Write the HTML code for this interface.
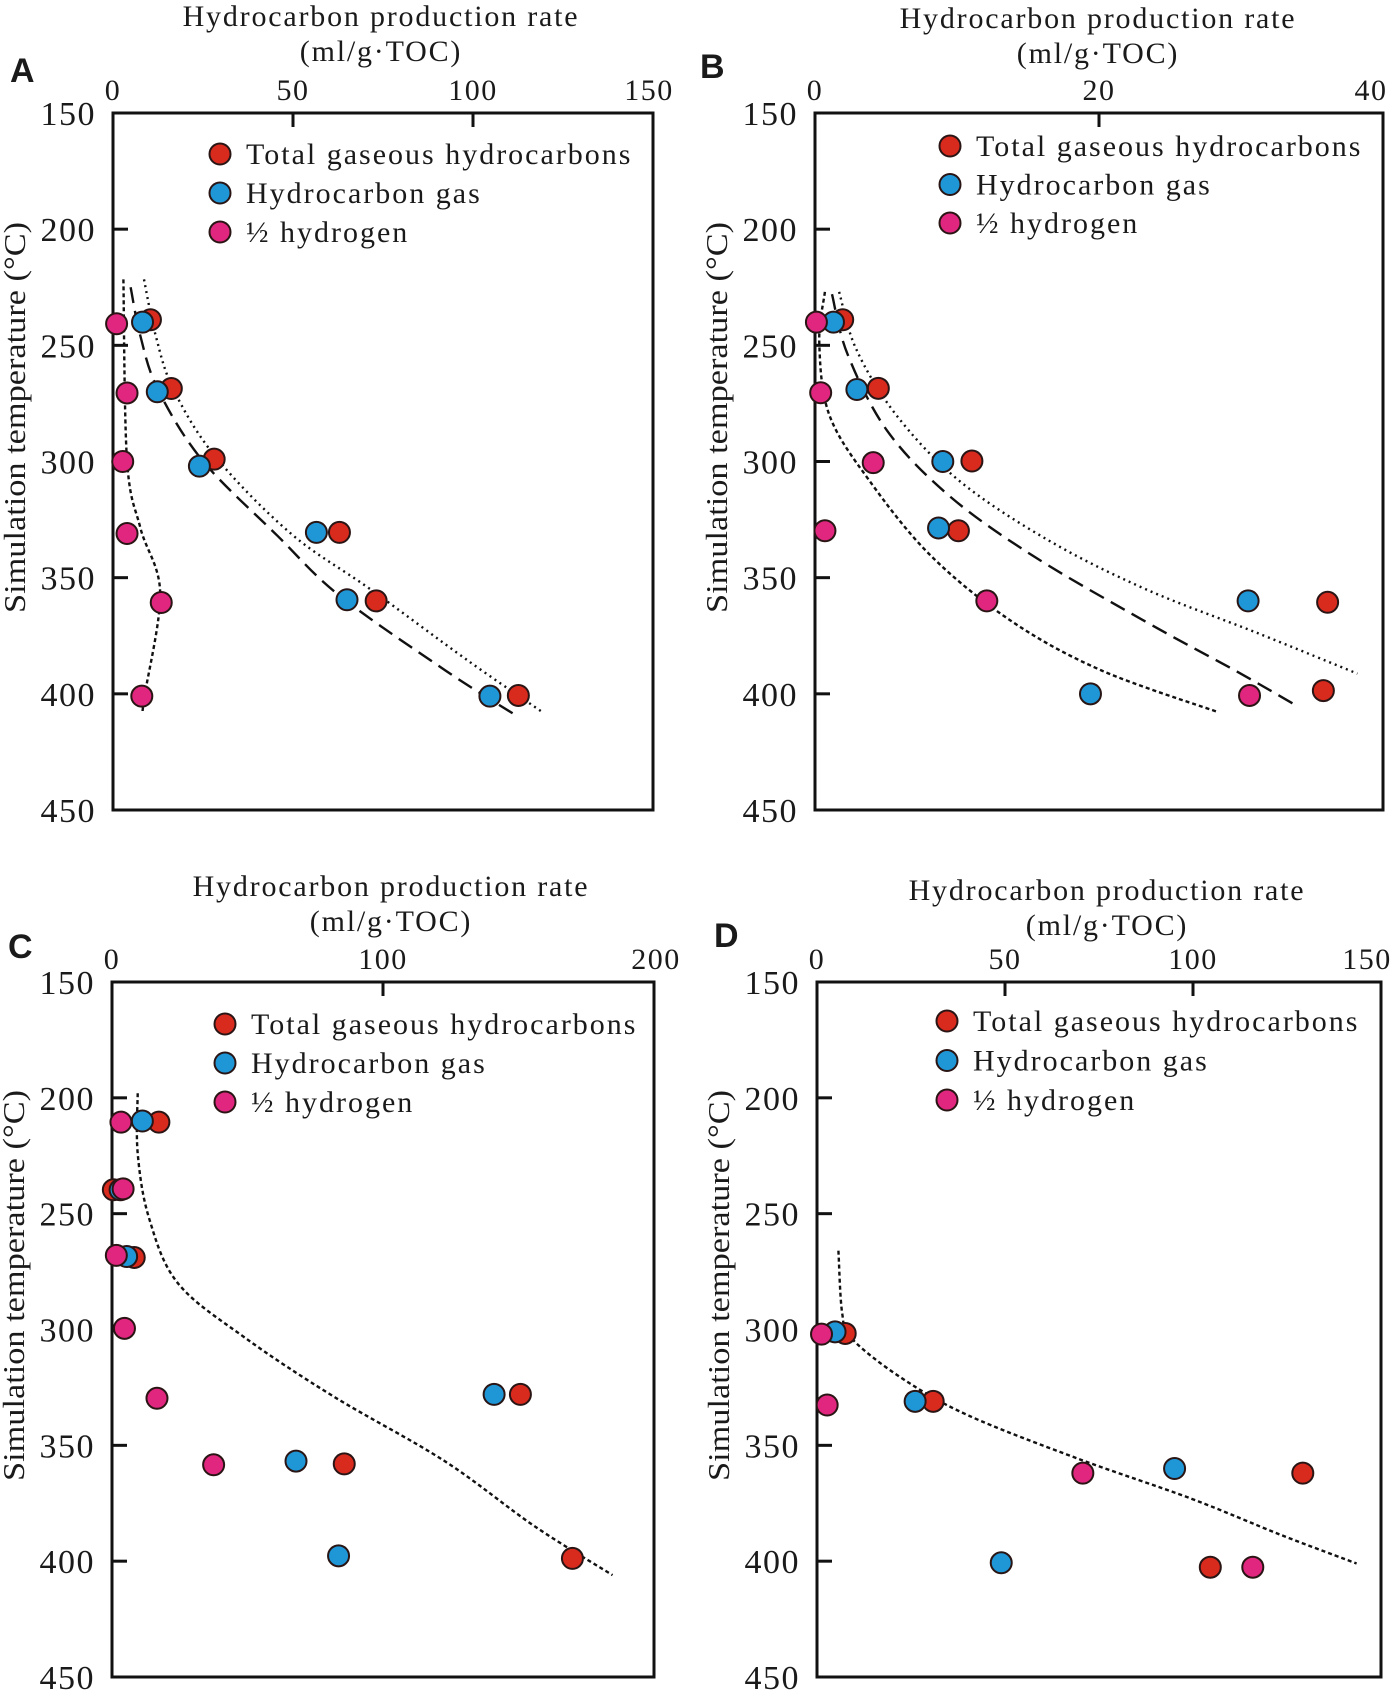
<!DOCTYPE html>
<html><head><meta charset="utf-8">
<style>
html,body{margin:0;padding:0;background:#fff;}
svg{display:block;}
text{font-family:"Liberation Serif",serif;fill:#1a1a1a;}
</style></head>
<body>
<svg id="fig" width="1400" height="1700" viewBox="0 0 1400 1700" xmlns="http://www.w3.org/2000/svg"></svg>
<script>
// ---------- Panel A data ----------
const aTotalX=[10.4,16.2,28.1,62.9,73.1,112.6];
const aTotalT=[239,268.6,299,330.5,360,400.7];
const aGasX=[8.2,12.3,24,56.5,65,104.7];
const aGasT=[240,270,302,330.5,359.5,401];
const aH2X=[1,3.9,2.7,3.9,13.4,8];
const aH2T=[240.7,270.5,300,331,360.7,401];
const aFitH2X=[2.9,3.9,7.6,13.1,8.8,8.2];
const aFitH2T=[221.6,299.5,328.6,356.5,400.7,408];
const aFitGasX=[4.9,7.6,12.5,24.8,45.7,62.9,92.4,112.7];
const aFitGasT=[225,246,269,299.5,332,357.7,390,410];
const aFitTotX=[8.6,11.9,16.8,28.5,49.4,71.5,98.5,119.4];
const aFitTotT=[221.6,246,269,298,331,355,385.6,408];
const aXTicks=[0,50,100,150];
// ---------- Panel B data ----------
const bTotalX=[1.95,4.46,11.05,10.1,36.1,35.8];
const bTotalT=[239,268.5,299.8,329.8,360.6,398.6];
const bGasX=[1.3,2.95,9,8.7,30.5,19.4];
const bGasT=[240,269,300,328.6,360,400];
const bH2X=[0.1,0.4,4.1,0.7,12.1,30.6];
const bH2T=[240,270.4,300.5,329.8,360,400.7];
const bFitH2X=[0.7,0.3,1,3.8,8.2,13.9,20.2,28.3];
const bFitH2T=[227,249,279.8,308,340.8,369,390,407.7];
const bFitGasX=[1.2,2.3,5.1,9.5,15.4,23.3,29.6,33.8];
const bFitGasT=[228,254,286.9,315,340.8,369,390,404.7];
const bFitTotX=[1.7,2.9,5.7,10.1,16.4,23.3,31.1,38.2];
const bFitTotT=[227,251.6,279.8,308,333.8,355,373.7,391.3];
const bXTicks=[0,20,40];
// ---------- Panel C data ----------
const cTotalX=[17.3,0.5,8.2,150.7,85.7,169.9];
const cTotalT=[210.5,239.7,268.9,328,358,398.8];
const cGasX=[11.2,3,5.4,141,67.9,83.6];
const cGasT=[210,239.7,268.5,328,356.8,397.7];
const cH2X=[3.3,4.1,1.6,4.6,16.6,37.5];
const cH2T=[210.5,239.3,268,299.5,329.7,358.4];
const cFitX=[9.5,9.5,13.7,24.3,49,81.9,123,156,184.7];
const cFitT=[198,224,252,280,303.5,329,357,385,406];
const cXTicks=[0,100,200];
// ---------- Panel D data ----------
const dTotalX=[7.5,30.9,129.2,104.6];
const dTotalT=[301.7,331,362,402.6];
const dGasX=[4.8,26.1,95.1,49];
const dGasT=[301,331,360,400.7];
const dH2X=[1.2,2.7,70.7,115.9];
const dH2T=[302,332.6,362,402.6];
const dFitX=[5.7,6.7,9.3,22.3,40.1,69.8,99.5,123.3,143.5];
const dFitT=[266,293,304,320.7,337,356,373,388.6,401];
const dXTicks=[0,50,100,150];

const yTicks=[150,200,250,300,350,400,450];

const NS="http://www.w3.org/2000/svg";
const svg=document.getElementById('fig');
function mk(tag,attrs,parent){const e=document.createElementNS(NS,tag);for(const k in attrs)e.setAttribute(k,attrs[k]);(parent||svg).appendChild(e);return e;}

const RED="#d92a1e",BLUE="#1f96d6",PINK="#e0267e";

function smooth(pts){
  let d='M'+pts[0][0].toFixed(1)+','+pts[0][1].toFixed(1);
  for(let i=0;i<pts.length-1;i++){
    const p0=pts[i-1]||pts[i],p1=pts[i],p2=pts[i+1],p3=pts[i+2]||p2;
    const c1=[p1[0]+(p2[0]-p0[0])/6,p1[1]+(p2[1]-p0[1])/6];
    const c2=[p2[0]-(p3[0]-p1[0])/6,p2[1]-(p3[1]-p1[1])/6];
    d+=' C'+c1[0].toFixed(1)+','+c1[1].toFixed(1)+' '+c2[0].toFixed(1)+','+c2[1].toFixed(1)+' '+p2[0].toFixed(1)+','+p2[1].toFixed(1);
  }
  return d;
}

function panel(cfg){
  const g=mk('g',{});
  
  
  const L=cfg.box[0],T=cfg.box[1],R=cfg.box[2],B=cfg.box[3];
  const xs=v=>L+(v-cfg.xMin)/(cfg.xMax-cfg.xMin)*(R-L);
  const ys=t=>T+(t-150)/300*(B-T);
  const lt=mk('text',{x:cfg.letter[0],y:cfg.letter[1],'font-size':34,'font-weight':'bold','style':'font-family:"Liberation Sans",sans-serif'},g);
  lt.textContent=cfg.id.toUpperCase();
  
  
  const t1=mk('text',{x:cfg.titleX,y:cfg.titleY,'text-anchor':'middle','font-size':30,'letter-spacing':'1.8'},g);
  t1.textContent='Hydrocarbon production rate';
  
  
  const t2=mk('text',{x:cfg.titleX,y:cfg.titleY+35,'text-anchor':'middle','font-size':30,'letter-spacing':'1.8'},g);
  t2.textContent='(ml/g·TOC)';
  
  
  const cy=(T+B)/2-44;
  const yt=mk('text',{x:0,y:0,'text-anchor':'middle','font-size':33,transform:'translate('+(L-88)+','+cy+') rotate(-90) scale(1.04,0.92)'},g);
  yt.textContent='Simulation temperature (°C)';
  
  
  const box=mk('rect',{x:L,y:T,width:R-L,height:B-T,fill:'none',stroke:'#111','stroke-width':3},g);
  
  
  cfg.xTicks.forEach((v,i)=>{
    const x=xs(v);
    const off=(v===cfg.xMax)?cfg.lastOff:0;
    const tl=mk('text',{x:x+off,y:T-13,'text-anchor':'middle','font-size':30,'letter-spacing':'1.5'},g);
    tl.textContent=v;
    
    
    if(v!==cfg.xMin&&v!==cfg.xMax){
      const tk=mk('line',{x1:x,y1:T,x2:x,y2:T+14,stroke:'#111','stroke-width':3},g);
      
      
    }
  });
  yTicks.forEach(v=>{
    const y=ys(v);
    const tl=mk('text',{x:L-17,y:y+12,'text-anchor':'end','font-size':34,'letter-spacing':'1.5'},g);
    tl.textContent=v;
    
    
    if(v!==150&&v!==450){
      const tk=mk('line',{x1:L,y1:y,x2:L+15,y2:y,stroke:'#111','stroke-width':3},g);
      
      
    }
  });
  cfg.fits.forEach(f=>{
    const pts=f.x.map((v,i)=>[xs(v),ys(f.t[i])]);
    const p=mk('path',{d:smooth(pts),fill:'none',stroke:'#111','stroke-width':2.4,'stroke-dasharray':f.dash},g);
    
    
  });
  cfg.series.forEach(s=>{
    s.x.forEach((v,i)=>{
      const c=mk('circle',{cx:xs(v),cy:ys(s.t[i]),r:10.5,fill:s.color,stroke:'#2a1515','stroke-width':2},g);
      
      
    });
  });
  const labels=['Total gaseous hydrocarbons','Hydrocarbon gas','½ hydrogen'];
  const cols=[RED,BLUE,PINK];
  labels.forEach((lab,i)=>{
    const y=cfg.leg[1]+i*cfg.legStep;
    const m=mk('circle',{cx:cfg.leg[0],cy:y,r:10.5,fill:cols[i],stroke:'#2a1515','stroke-width':2},g);
    
    
    const tx=mk('text',{x:cfg.leg[0]+26,y:y+10,'font-size':30,'letter-spacing':'2'},g);
    tx.textContent=lab;
    
    
  });
}

panel({id:'a',box:[113,113,653,810],xMin:0,xMax:150,xTicks:aXTicks,lastOff:-4,letter:[10,82],titleX:381,titleY:26,leg:[220,154],legStep:39,
  fits:[{x:aFitH2X,t:aFitH2T,dash:'4 3',name:'hydrogen-fit'},{x:aFitGasX,t:aFitGasT,dash:'16 8',name:'gas-fit'},{x:aFitTotX,t:aFitTotT,dash:'2 4',name:'total-fit'}],
  series:[{x:aTotalX,t:aTotalT,color:RED,name:'total'},{x:aGasX,t:aGasT,color:BLUE,name:'gas'},{x:aH2X,t:aH2T,color:PINK,name:'hydrogen'}]});
panel({id:'b',box:[815,113,1383,810],xMin:0,xMax:40,xTicks:bXTicks,lastOff:-12,letter:[700,78],titleX:1098,titleY:28,leg:[950,146],legStep:38.5,
  fits:[{x:bFitH2X,t:bFitH2T,dash:'4 3',name:'hydrogen-fit'},{x:bFitGasX,t:bFitGasT,dash:'16 8',name:'gas-fit'},{x:bFitTotX,t:bFitTotT,dash:'2 4',name:'total-fit'}],
  series:[{x:bTotalX,t:bTotalT,color:RED,name:'total'},{x:bGasX,t:bGasT,color:BLUE,name:'gas'},{x:bH2X,t:bH2T,color:PINK,name:'hydrogen'}]});
panel({id:'c',box:[112,982,654,1677],xMin:0,xMax:200,xTicks:cXTicks,lastOff:2,letter:[8,958],titleX:391,titleY:896,leg:[225,1024],legStep:39,
  fits:[{x:cFitX,t:cFitT,dash:'4 3',name:'total-fit'}],
  series:[{x:cTotalX,t:cTotalT,color:RED,name:'total'},{x:cGasX,t:cGasT,color:BLUE,name:'gas'},{x:cH2X,t:cH2T,color:PINK,name:'hydrogen'}]});
panel({id:'d',box:[817,982,1381,1677],xMin:0,xMax:150,xTicks:dXTicks,lastOff:-14,letter:[714,947],titleX:1107,titleY:900,leg:[947,1021],legStep:39.5,
  fits:[{x:dFitX,t:dFitT,dash:'4 3',name:'total-fit'}],
  series:[{x:dTotalX,t:dTotalT,color:RED,name:'total'},{x:dGasX,t:dGasT,color:BLUE,name:'gas'},{x:dH2X,t:dH2T,color:PINK,name:'hydrogen'}]});
</script>
</body></html>
